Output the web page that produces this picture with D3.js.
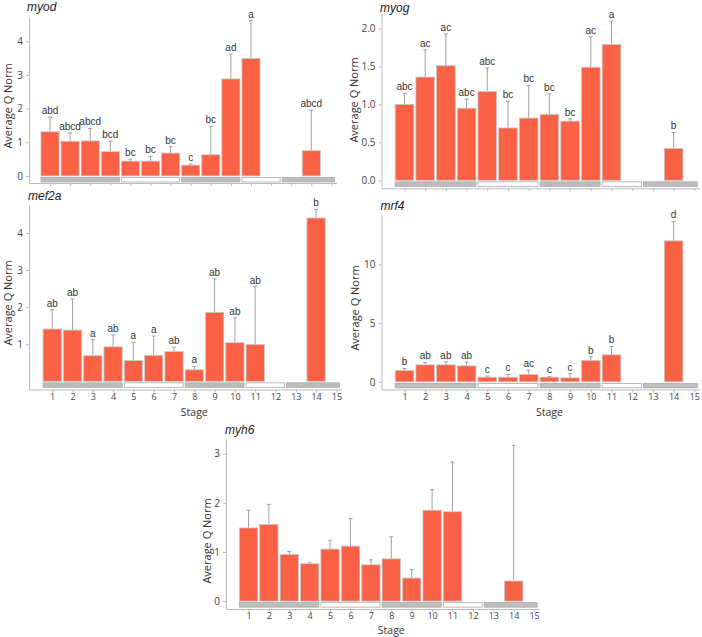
<!DOCTYPE html>
<html>
<head>
<meta charset="utf-8">
<script src="https://cdn.jsdelivr.net/npm/d3@7"></script>
<style>
  body { margin: 0; background: #fff; }
  svg { display: block; }
  .tick text { font-family: "Open Sans", sans-serif; font-size: 10px; fill: #444; }
  .xaxis .tick text { font-size: 9px; }
  .domain, .tick line { stroke: #bbb; }
</style>
</head>
<body>
<svg id="chart"></svg>
<script>
const stages = d3.range(1, 16);

// stage groups drawn as the strip under the bars
const groupStart = [1, 5, 8, 11, 13];
const groupEnd = [4, 7, 10, 12, 15];
const groupShade = [true, false, true, false, true];

const myodMean = [1.31, 1.03, 1.04, 0.72, 0.44, 0.44, 0.68, 0.32, 0.63, 2.88, 3.49, 0, 0, 0.75, null];
const myodErr = [1.74, 1.28, 1.41, 1.03, 0.50, 0.58, 0.87, 0.35, 1.47, 3.62, 4.61, null, null, 1.95, null];
const myodLetters = ["abd", "abcd", "abcd", "bcd", "bc", "bc", "bc", "c", "bc", "ad", "a", "", "", "abcd", ""];

const myogMean = [1.00, 1.36, 1.51, 0.95, 1.17, 0.69, 0.82, 0.87, 0.78, 1.49, 1.79, 0, 0, 0.42, null];
const myogErr = [1.145, 1.72, 1.93, 1.07, 1.48, 1.04, 1.25, 1.14, 0.81, 1.89, 2.10, null, null, 0.63, null];
const myogLetters = ["abc", "ac", "ac", "abc", "abc", "bc", "bc", "bc", "bc", "ac", "a", "", "", "b", ""];

const mef2aMean = [1.41, 1.38, 0.69, 0.93, 0.56, 0.70, 0.80, 0.31, 1.86, 1.04, 0.99, 0, 0, 4.40, null];
const mef2aErr = [1.93, 2.22, 1.12, 1.25, 1.05, 1.22, 0.92, 0.40, 2.76, 1.71, 2.55, null, null, 4.63, null];
const mef2aLetters = ["ab", "ab", "a", "ab", "a", "a", "ab", "a", "ab", "ab", "ab", "", "", "b", ""];

const mrf4Mean = [0.97, 1.45, 1.45, 1.36, 0.40, 0.40, 0.63, 0.40, 0.34, 1.82, 2.30, 0, 0, 12.0, null];
const mrf4Err = [1.14, 1.65, 1.71, 1.68, 0.49, 0.63, 1.00, 0.46, 0.71, 2.13, 3.01, null, null, 13.67, null];
const mrf4Letters = ["b", "ab", "ab", "ab", "c", "c", "ac", "c", "c", "b", "b", "", "", "d", ""];

const myh6Mean = [1.49, 1.56, 0.95, 0.76, 1.06, 1.12, 0.74, 0.86, 0.47, 1.85, 1.82, 0, 0, 0.41, null];
const myh6Err = [1.85, 1.97, 1.01, 0.78, 1.24, 1.68, 0.84, 1.31, 0.64, 2.27, 2.83, null, null, 3.17, null];

const myodTicks = [0, 1, 2, 3, 4];
const myogTicks = [0, 0.5, 1, 1.5, 2];
const mef2aTicks = [1, 2, 3, 4];
const mrf4Ticks = [0, 5, 10];
const myh6Ticks = [0, 1, 2, 3];

// layout of each panel (pixels)
const panels = [
  { gene: "myod", mean: myodMean, err: myodErr, letters: myodLetters, ticks: myodTicks, fmt: d3.format("d"),
    axisX: 29, first: 50, step: 20.1, yDom: [-0.21, 4.72], yRange: [183, 17],
    titleX: 27, titleY: 11, labX: 8, labY: 106, bottom: false },
  { gene: "myog", mean: myogMean, err: myogErr, letters: myogLetters, ticks: myogTicks, fmt: d3.format(".1f"),
    axisX: 381.5, first: 404.5, step: 20.7, yDom: [-0.105, 2.2], yRange: [188.3, 13.3],
    titleX: 380, titleY: 12, labX: 354, labY: 100, bottom: false },
  { gene: "mef2a", mean: mef2aMean, err: mef2aErr, letters: mef2aLetters, ticks: mef2aTicks, fmt: d3.format("d"),
    axisX: 29, first: 52.2, step: 20.3, yDom: [-0.22, 4.75], yRange: [389.5, 205],
    titleX: 28, titleY: 200, labX: 8, labY: 303, bottom: true, stageY: 416 },
  { gene: "mrf4", mean: mrf4Mean, err: mrf4Err, letters: mrf4Letters, ticks: mrf4Ticks, fmt: d3.format("d"),
    axisX: 381.5, first: 404.5, step: 20.7, yDom: [-0.65, 14.2], yRange: [389.5, 215],
    titleX: 380.5, titleY: 210, labX: 355, labY: 308, bottom: true, stageY: 416 },
  { gene: "myh6", mean: myh6Mean, err: myh6Err, letters: null, ticks: myh6Ticks, fmt: d3.format("d"),
    axisX: 226, first: 248.5, step: 20.4, yDom: [-0.16, 3.3], yRange: [609, 439],
    titleX: 225, titleY: 434, labX: 207, labY: 541, bottom: true, stageY: 633.5 }
];

const svg = d3.select("#chart")
  .attr("width", 702)
  .attr("height", 637);

panels.forEach(drawPanel);

function drawPanel(p) {
  const g = svg.append("g");

  const s0 = 1 + (p.axisX - p.first) / p.step;
  const xEnd = 15.25;
  const xScale = d3.scaleLinear()
    .domain([s0, xEnd])
    .range([p.axisX, p.first + (xEnd - 1) * p.step]);
  const bw = p.step * 0.9;

  const yScale = d3.scaleLinear()
    .domain(p.yDom)
    .range(p.yRange);
  const y0 = yScale(0);

  // stage strip
  g.selectAll("rect.band")
    .data(groupStart)
    .enter()
    .append("rect")
    .attr("class", "band")
    .attr("x", (d, i) => xScale(d) - bw / 2)
    .attr("y", y0 + 1.5)
    .attr("width", (d, i) => {
      const end = groupEnd[i] === 15 ? xScale(15) + 3 : xScale(groupEnd[i]) + bw / 2;
      return end - (xScale(d) - bw / 2);
    })
    .attr("height", 4.5)
    .attr("fill", (d, i) => groupShade[i] ? "#bdbdbd" : "#fff")
    .attr("stroke", "#aaa")
    .attr("stroke-width", 0.8);

  const rows = stages.map((s, i) => ({ stage: s, mean: p.mean[i], err: p.err[i], letter: p.letters ? p.letters[i] : "" }))
    .filter(d => d.mean !== null);

  // error bars
  const errRows = rows.filter(d => d.err !== null);
  g.selectAll("line.err")
    .data(errRows)
    .enter()
    .append("line")
    .attr("x1", d => xScale(d.stage))
    .attr("x2", d => xScale(d.stage))
    .attr("y1", d => yScale(d.mean))
    .attr("y2", d => yScale(d.err))
    .attr("stroke", "#a0a0a0")
    .attr("stroke-width", 1);
  g.selectAll("line.cap")
    .data(errRows)
    .enter()
    .append("line")
    .attr("x1", d => xScale(d.stage) - 2)
    .attr("x2", d => xScale(d.stage) + 2)
    .attr("y1", d => yScale(d.err))
    .attr("y2", d => yScale(d.err))
    .attr("stroke", "#a0a0a0")
    .attr("stroke-width", 1);

  // bars (zero-height ones show as a thin grey line)
  g.selectAll("rect.bar")
    .data(rows)
    .enter()
    .append("rect")
    .attr("x", d => xScale(d.stage) - bw / 2)
    .attr("y", d => yScale(d.mean))
    .attr("width", bw)
    .attr("height", d => Math.max(0, y0 - yScale(d.mean)))
    .attr("fill", "#fb6145")
    .attr("stroke", "#c8c8c8")
    .attr("stroke-width", 0.8);

  // significance letters
  g.selectAll("text.letter")
    .data(errRows.filter(d => d.letter))
    .enter()
    .append("text")
    .attr("x", d => xScale(d.stage))
    .attr("y", d => yScale(d.err) - 3)
    .attr("text-anchor", "middle")
    .attr("font-family", "Liberation Sans, Arial, sans-serif")
    .attr("font-size", 10)
    .attr("fill", "#333")
    .text(d => d.letter);

  // axes
  const xAxis = d3.axisBottom(xScale)
    .tickValues(stages)
    .tickSize(3)
    .tickSizeOuter(0)
    .tickPadding(1)
    .tickFormat(p.bottom ? d3.format("d") : "");
  g.append("g")
    .attr("class", "xaxis")
    .attr("transform", `translate(0,${p.yRange[0]})`)
    .call(xAxis);

  const yAxis = d3.axisLeft(yScale)
    .tickValues(p.ticks)
    .tickSize(3)
    .tickSizeOuter(0)
    .tickPadding(3)
    .tickFormat(p.fmt);
  g.append("g")
    .attr("transform", `translate(${p.axisX},0)`)
    .call(yAxis);

  g.append("text")
    .attr("transform", `translate(${p.labX},${p.labY}) rotate(-90)`)
    .attr("text-anchor", "middle")
    .attr("dy", "0.35em")
    .attr("font-family", "Open Sans, sans-serif")
    .attr("font-size", 11)
    .attr("fill", "#333")
    .text("Average Q Norm");

  g.append("text")
    .attr("x", p.titleX)
    .attr("y", p.titleY)
    .attr("font-family", "Liberation Sans, Arial, sans-serif")
    .attr("font-style", "italic")
    .attr("font-size", 12)
    .attr("fill", "#222")
    .text(p.gene);

  if (p.bottom) {
    g.append("text")
      .attr("x", (xScale(1) + xScale(15)) / 2)
      .attr("y", p.stageY)
      .attr("text-anchor", "middle")
      .attr("font-family", "Open Sans, sans-serif")
      .attr("font-size", 10.5)
      .attr("fill", "#333")
      .text("Stage");
  }
}
</script>
</body>
</html>
